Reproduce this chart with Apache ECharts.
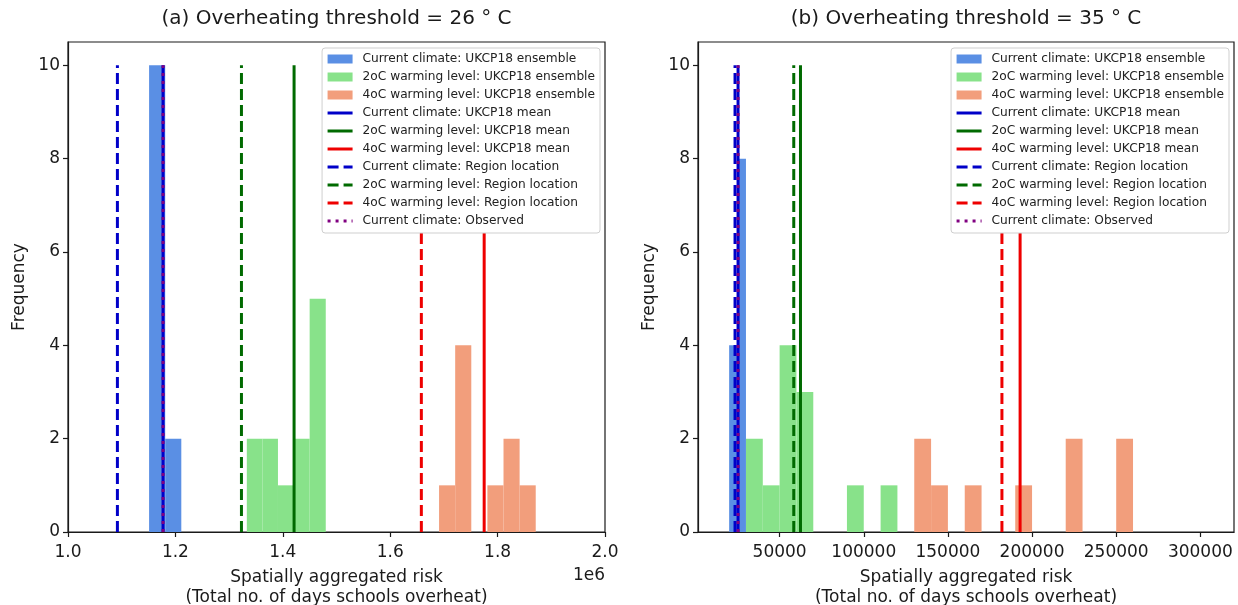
<!DOCTYPE html>
<html>
<head>
<meta charset="utf-8" />
<title>Overheating histograms</title>
<style>
  body { margin: 0; padding: 0; background: #fff; }
  #chart { width: 1238px; height: 605px; }
</style>
<script src="https://cdn.jsdelivr.net/npm/echarts@6/dist/echarts.min.js"></script>
</head>
<body>
<div id="chart"></div>
<script>
const legendNames = [
  "Current climate: UKCP18 ensemble",
  "2oC warming level: UKCP18 ensemble",
  "4oC warming level: UKCP18 ensemble",
  "Current climate: UKCP18 mean",
  "2oC warming level: UKCP18 mean",
  "4oC warming level: UKCP18 mean",
  "Current climate: Region location",
  "2oC warming level: Region location",
  "4oC warming level: Region location",
  "Current climate: Observed",
];

// (a) threshold 26 C
const aCurrentEdges = [1.151e6, 1.181e6, 1.211e6];
const aCurrentCounts = [10, 2];
const a2cEdges = [1.333e6, 1.362e6, 1.391e6, 1.421e6, 1.450e6, 1.480e6];
const a2cCounts = [2, 2, 1, 2, 5];
const a4cEdges = [1.691e6, 1.721e6, 1.751e6, 1.781e6, 1.811e6, 1.841e6, 1.871e6];
const a4cCounts = [1, 4, 0, 1, 2, 1];
const aMeans = [1.177e6, 1.421e6, 1.775e6];
const aRegion = [1.092e6, 1.323e6, 1.658e6];
const aObserved = 1.177e6;

// (b) threshold 35 C
const bCurrentEdges = [20000, 25000, 30000];
const bCurrentCounts = [4, 8];
const b2cEdges = [30000, 40000, 50000, 60000, 70000, 80000, 90000, 100000, 110000, 120000];
const b2cCounts = [2, 1, 4, 3, 0, 0, 1, 0, 1];
const b4cEdges = [130000, 140000, 150000, 160000, 170000, 180000, 190000, 200000,
                  210000, 220000, 230000, 240000, 250000, 260000];
const b4cCounts = [2, 1, 0, 1, 0, 0, 1, 0, 0, 2, 0, 0, 2];
const bMeans = [25300, 62400, 192900];
const bRegion = [23500, 58400, 182100];
const bObserved = 25300;

const lineTop = 10;
const yTicks = [0, 2, 4, 6, 8, 10];
const aXTicks = [1.0e6, 1.2e6, 1.4e6, 1.6e6, 1.8e6, 2.0e6];
const bXTicks = [50000, 100000, 150000, 200000, 250000, 300000];

const font = "DejaVu Sans";
const ink = "#1a1a1a";
const histColors = ["#5a8fe4", "#88e28a", "#f29e7c"];
const lineColors = ["#0000c8", "#006a00", "#ee0000"];

function histData(edges, counts) {
  return counts.map((c, i) => [edges[i], edges[i + 1], c]);
}

function renderBin(params, api) {
  const h = api.value(2);
  if (!h) return;
  const tl = api.coord([api.value(0), h]);
  const br = api.coord([api.value(1), 0]);
  return {
    type: "rect",
    shape: { x: tl[0], y: tl[1], width: br[0] - tl[0], height: br[1] - tl[1] },
    style: api.style(),
  };
}

function vline(idx, name, x, color, dash) {
  return {
    type: "line",
    name: name,
    xAxisIndex: idx,
    yAxisIndex: idx,
    data: [[x, 0], [x, lineTop]],
    symbol: "none",
    silent: true,
    z: 3,
    itemStyle: { color: color },
    lineStyle: { color: color, width: 3, type: dash },
  };
}

function panelSeries(idx, hists, means, region, observed) {
  const list = [];
  hists.forEach((h, k) => {
    list.push({
      type: "custom",
      name: legendNames[k],
      xAxisIndex: idx,
      yAxisIndex: idx,
      renderItem: renderBin,
      encode: { x: [0, 1], y: 2 },
      itemStyle: { color: histColors[k] },
      silent: true,
      z: 1,
      data: h,
    });
  });
  means.forEach((m, k) => list.push(vline(idx, legendNames[3 + k], m, lineColors[k], "solid")));
  region.forEach((r, k) => list.push(vline(idx, legendNames[6 + k], r, lineColors[k], [11, 5])));
  list.push(vline(idx, legendNames[9], observed, "#800080", [3, 5]));
  return list;
}

function xAxisFor(idx, min, max, ticks, fmt) {
  return {
    type: "value",
    gridIndex: idx,
    min: min,
    max: max,
    axisLine: { show: true, onZero: false, lineStyle: { color: ink, width: 1.2 } },
    axisTick: { show: true, length: 5, customValues: ticks, lineStyle: { color: ink, width: 1.2 } },
    axisLabel: { customValues: ticks, formatter: fmt, fontFamily: font, fontSize: 17, color: ink, margin: 12 },
    splitLine: { show: false },
    name: "Spatially aggregated risk\n(Total no. of days schools overheat)",
    nameLocation: "middle",
    nameGap: 36,
    nameTextStyle: { fontFamily: font, fontSize: 17, color: ink, lineHeight: 20 },
  };
}

function yAxisFor(idx) {
  return {
    type: "value",
    gridIndex: idx,
    min: 0,
    max: 10.5,
    axisLine: { show: true, onZero: false, lineStyle: { color: ink, width: 1.2 } },
    axisTick: { show: true, length: 5, customValues: yTicks, lineStyle: { color: ink, width: 1.2 } },
    axisLabel: { customValues: yTicks, fontFamily: font, fontSize: 17, color: ink, margin: 8 },
    splitLine: { show: false },
    name: "Frequency",
    nameLocation: "middle",
    nameRotate: 90,
    nameGap: 40,
    nameTextStyle: { fontFamily: font, fontSize: 17, color: ink },
  };
}

function legendAt(right) {
  return {
    orient: "vertical",
    right: right,
    top: 48,
    itemWidth: 25,
    itemHeight: 9,
    itemGap: 0,
    padding: [2, 5, 3, 4],
    backgroundColor: "#fff",
    borderColor: "#cfcfcf",
    borderWidth: 1,
    borderRadius: 3,
    selectedMode: false,
    textStyle: { fontFamily: font, fontSize: 12.2, color: "#222", lineHeight: 18, padding: [0, 0, 0, 5] },
    lineStyle: { width: 3 },
    data: legendNames.map((n, i) => (i < 3 ? { name: n, icon: "rect" } : { name: n, itemStyle: { opacity: 0 } })),
  };
}

const grids = [
  { left: 68, top: 42, width: 537, height: 490 },
  { left: 698, top: 42, width: 536, height: 490 },
];

const option = {
  animation: false,
  backgroundColor: "#fff",
  grid: grids.map((g) => Object.assign({ show: true, borderColor: ink, borderWidth: 1.2, outerBoundsMode: "none", containLabel: false }, g)),
  xAxis: [
    xAxisFor(0, 1.0e6, 2.0e6, aXTicks, (v) => (v / 1e6).toFixed(1)),
    xAxisFor(1, 1500, 320000, bXTicks, (v) => String(v)),
  ],
  yAxis: [yAxisFor(0), yAxisFor(1)],
  legend: [legendAt(1238 - 600), legendAt(1238 - 1229)],
  graphic: [
    {
      type: "text", x: 336.5, y: 19,
      style: { text: "(a) Overheating threshold = 26 ° C", font: "20px 'DejaVu Sans'", fill: ink, align: "center", verticalAlign: "middle" },
    },
    {
      type: "text", x: 966, y: 19,
      style: { text: "(b) Overheating threshold = 35 ° C", font: "20px 'DejaVu Sans'", fill: ink, align: "center", verticalAlign: "middle" },
    },
    {
      type: "text", x: 605, y: 567,
      style: { text: "1e6", font: "17px 'DejaVu Sans'", fill: ink, align: "right", verticalAlign: "top" },
    },
  ],
  series: [].concat(
    panelSeries(0, [histData(aCurrentEdges, aCurrentCounts), histData(a2cEdges, a2cCounts), histData(a4cEdges, a4cCounts)], aMeans, aRegion, aObserved),
    panelSeries(1, [histData(bCurrentEdges, bCurrentCounts), histData(b2cEdges, b2cCounts), histData(b4cEdges, b4cCounts)], bMeans, bRegion, bObserved)
  ),
};

const myChart = echarts.init(document.getElementById("chart"));
myChart.setOption(option);
</script>
</body>
</html>
